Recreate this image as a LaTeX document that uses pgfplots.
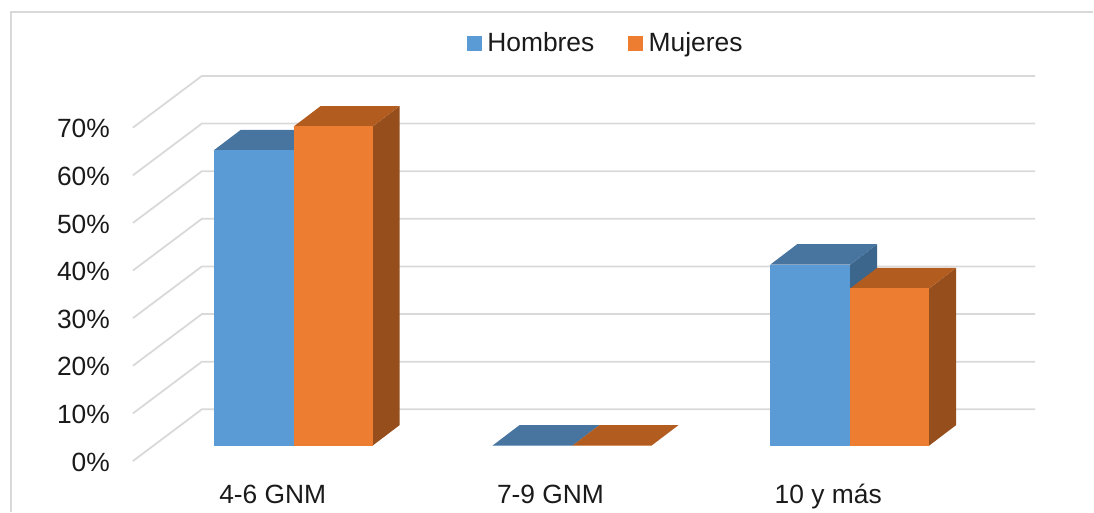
\documentclass[border=0pt]{standalone}
\usepackage{pgfplots}
\pgfplotsset{compat=1.18}
\usepackage{fontspec}
\setmainfont{Liberation Sans}
\definecolor{hfront}{HTML}{5B9BD5}
\definecolor{htop}{HTML}{4775A0}
\definecolor{hside}{HTML}{3C668C}
\definecolor{mfront}{HTML}{ED7D31}
\definecolor{mtop}{HTML}{B35C20}
\definecolor{mside}{HTML}{964F1C}
\definecolor{gridc}{HTML}{D9D9D9}
\definecolor{txt}{HTML}{1A1A1A}
% x in image pixels, y in percent, 0 at the bars' front base
% #1 left, #2 right, #3 value, #4 front, #5 top, #6 side
\newcommand{\barbox}[6]{%
  \pgfmathsetmacro{\xa}{#1+27}%
  \pgfmathsetmacro{\xb}{#2+27}%
  \pgfmathsetmacro{\vb}{#3+4.3}%
  \addplot[fill=#6,draw=none,forget plot] coordinates {(#2,0) (\xb,4.3) (\xb,\vb) (#2,#3)} --cycle;
  \addplot[fill=#5,draw=none,forget plot] coordinates {(#1,#3) (#2,#3) (\xb,\vb) (\xa,\vb)} --cycle;
  \addplot[fill=#4,draw=none,forget plot] coordinates {(#1,0) (#2,0) (#2,#3) (#1,#3)} --cycle;
}
% #1 level on the wall
\newcommand{\wall}[1]{%
  \pgfmathsetmacro{\ya}{#1-3.25}%
  \pgfmathsetmacro{\yb}{#1+7.61}%
  \addplot[gridc,line width=1.8pt,forget plot] coordinates {(133,\ya) (202,\yb) (1036,\yb)};
}
\begin{document}
\begin{tikzpicture}
\begin{axis}[
  scale only axis, width=1094pt, height=512pt,
  xmin=0, xmax=1094, ymin=-13.85, ymax=93.56,
  clip=false,
  axis line style={draw=none},
  tick style={draw=none},
  font=\fontsize{26.4}{30}\selectfont,
  ticklabel style={text=txt},
  xtick={273,551,829},
  xticklabels={4-6 GNM,7-9 GNM,10 y más},
  xticklabel style={anchor=base,yshift=8.5pt},
  ytick={-3.25,6.75,16.75,26.75,36.75,46.75,56.75,66.75},
  yticklabels={0\%,10\%,20\%,30\%,40\%,50\%,60\%,70\%},
  yticklabel style={anchor=east,xshift=113.5pt,yshift=-1pt},
  legend columns=2,
  legend cell align=left,
  legend style={at={(0.5542,0.916)},anchor=center,draw=none,fill=none,text=txt,
    font=\fontsize{26.4}{30}\selectfont,
    /tikz/every odd column/.append style={column sep=4pt},
    /tikz/every even column/.append style={column sep=32pt}},
]
\addlegendimage{area legend,hfront,fill=hfront,legend image code/.code={\fill[hfront] (0pt,-7pt) rectangle (14pt,7pt);}}
\addlegendentry{Hombres}
\addlegendimage{area legend,mfront,fill=mfront,legend image code/.code={\fill[mfront] (0pt,-7pt) rectangle (14pt,7pt);}}
\addlegendentry{Mujeres}
\addplot[gridc,line width=2pt,forget plot] coordinates {(11,-13.85) (11,90.95) (1094,90.95)};
\wall{0}\wall{10}\wall{20}\wall{30}\wall{40}\wall{50}\wall{60}\wall{70}
\barbox{214}{294}{62}{hfront}{htop}{hside}
\barbox{294}{373}{67}{mfront}{mtop}{mside}
\barbox{493}{573}{0}{hfront}{htop}{hside}
\barbox{573}{652}{0}{mfront}{mtop}{mside}
\barbox{771}{851}{38}{hfront}{htop}{hside}
\barbox{851}{930}{33}{mfront}{mtop}{mside}
\end{axis}
\end{tikzpicture}
\end{document}
